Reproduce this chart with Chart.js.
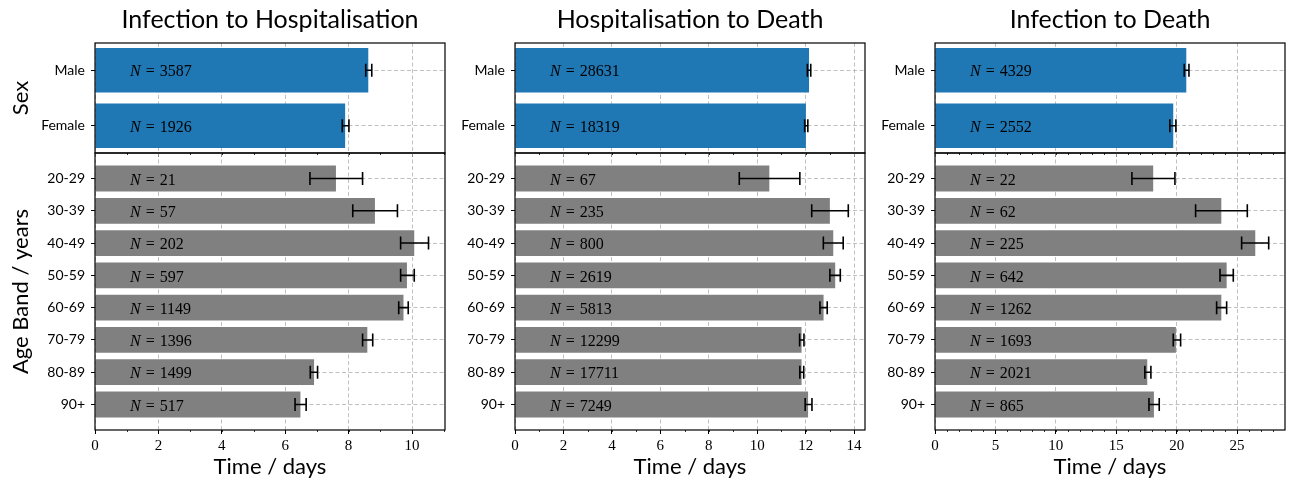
<!DOCTYPE html>
<html>
<head>
<meta charset="utf-8">
<script src="https://cdn.jsdelivr.net/npm/chart.js@4.4.1/dist/chart.umd.min.js"></script>
<style>
  html, body { margin: 0; padding: 0; background: #ffffff; }
  body { width: 1290px; height: 482px; position: relative; overflow: hidden; }
  canvas { position: absolute; }
</style>
</head>
<body>
<script>
// ---------- data ----------
const panelTitles = ['Infection to Hospitalisation', 'Hospitalisation to Death', 'Infection to Death'];
const sexLabels = ['Male', 'Female'];
const ageLabels = ['20-29', '30-39', '40-49', '50-59', '60-69', '70-79', '80-89', '90+'];
const sexAxisTitle = 'Sex';
const ageAxisTitle = 'Age Band / years';
const timeAxisTitle = 'Time / days';

// Infection to Hospitalisation
const ihSexMean = [8.62, 7.89];
const ihSexLow  = [8.54, 7.80];
const ihSexHigh = [8.73, 8.01];
const ihSexN    = [3587, 1926];
const ihAgeMean = [7.60, 8.83, 10.07, 9.84, 9.73, 8.59, 6.91, 6.48];
const ihAgeLow  = [6.78, 8.13, 9.64, 9.64, 9.58, 8.44, 6.79, 6.31];
const ihAgeHigh = [8.44, 9.54, 10.52, 10.07, 9.88, 8.76, 7.02, 6.66];
const ihAgeN    = [21, 57, 202, 597, 1149, 1396, 1499, 517];

// Hospitalisation to Death
const hdSexMean = [12.14, 12.01];
const hdSexLow  = [12.07, 11.96];
const hdSexHigh = [12.21, 12.09];
const hdSexN    = [28631, 18319];
const hdAgeMean = [10.50, 13.00, 13.14, 13.22, 12.74, 11.83, 11.83, 12.10];
const hdAgeLow  = [9.26, 12.25, 12.73, 13.00, 12.59, 11.75, 11.76, 11.98];
const hdAgeHigh = [11.76, 13.76, 13.55, 13.43, 12.89, 11.93, 11.92, 12.26];
const hdAgeN    = [67, 235, 800, 2619, 5813, 12299, 17711, 7249];

// Infection to Death
const idSexMean = [20.80, 19.72];
const idSexLow  = [20.63, 19.44];
const idSexHigh = [21.02, 19.94];
const idSexN    = [4329, 2552];
const idAgeMean = [18.06, 23.70, 26.51, 24.14, 23.70, 19.94, 17.57, 18.12];
const idAgeLow  = [16.30, 21.57, 25.38, 23.59, 23.31, 19.72, 17.37, 17.71];
const idAgeHigh = [19.86, 25.85, 27.62, 24.69, 24.14, 20.33, 17.87, 18.56];
const idAgeN    = [22, 62, 225, 642, 1262, 1693, 2021, 865];

// axis limits / tick steps (days)
const xMaxes = [11.04, 14.45, 28.97];
const xMajorSteps = [2, 2, 5];
const xMinorStep = 1;

// ---------- styling ----------
const SANS = 'Lato, "DejaVu Sans", sans-serif';
const SERIF = '"Liberation Serif", "DejaVu Serif", serif';
const BLUE = '#1f77b4';
const GREY = '#808080';
const GRID = '#b0b0b0';

const panels = [
  { sex: [ihSexMean, ihSexLow, ihSexHigh, ihSexN], age: [ihAgeMean, ihAgeLow, ihAgeHigh, ihAgeN] },
  { sex: [hdSexMean, hdSexLow, hdSexHigh, hdSexN], age: [hdAgeMean, hdAgeLow, hdAgeHigh, hdAgeN] },
  { sex: [idSexMean, idSexLow, idSexHigh, idSexN], age: [idAgeMean, idAgeLow, idAgeHigh, idAgeN] }
];

const AREA_LEFT = [95, 515, 935];
const AREA_W = 350;
const YAXIS_W = 95;
const RIGHT_PAD = 10;

function makeCanvas(left, top, w, h) {
  const c = document.createElement('canvas');
  c.width = w; c.height = h;
  c.style.left = left + 'px'; c.style.top = top + 'px';
  c.style.width = w + 'px'; c.style.height = h + 'px';
  document.body.appendChild(c);
  return c;
}

function overlayPlugin(labels, mean, low, high, nVals, xMax, isTop) {
  return {
    id: 'overlay',
    afterDatasetsDraw(chart) {
      const ctx = chart.ctx;
      const xs = chart.scales.x;
      const meta = chart.getDatasetMeta(0);
      const area = chart.chartArea;
      // error bars
      ctx.save();
      ctx.strokeStyle = '#000';
      ctx.lineWidth = 1.6;
      const cap = 6.5;
      for (let i = 0; i < mean.length; i++) {
        const y = meta.data[i].y;
        const x1 = xs.getPixelForValue(low[i]);
        const x2 = xs.getPixelForValue(high[i]);
        ctx.beginPath();
        ctx.moveTo(x1, y); ctx.lineTo(x2, y);
        ctx.moveTo(x1, y - cap); ctx.lineTo(x1, y + cap);
        ctx.moveTo(x2, y - cap); ctx.lineTo(x2, y + cap);
        ctx.stroke();
      }
      // N labels
      ctx.fillStyle = '#000';
      ctx.textBaseline = 'middle';
      ctx.textAlign = 'left';
      const tx = area.left + 0.1 * (area.right - area.left);
      for (let i = 0; i < nVals.length; i++) {
        const y = meta.data[i].y + 2;
        ctx.font = 'italic 16px ' + SERIF;
        ctx.fillText('N', tx, y);
        let w = ctx.measureText('N').width;
        ctx.font = '16px ' + SERIF;
        ctx.fillText('=', tx + w + 5, y);
        const we = ctx.measureText('=').width;
        ctx.fillText(String(nVals[i]), tx + w + 5 + we + 5, y);
      }
      ctx.restore();
    },
    afterDraw(chart) {
      const ctx = chart.ctx;
      const a = chart.chartArea;
      const xs = chart.scales.x;
      ctx.save();
      // minor ticks
      ctx.strokeStyle = '#000';
      ctx.lineWidth = 0.8;
      ctx.beginPath();
      for (let v = xMinorStep; v < xMax; v += xMinorStep) {
        const px = Math.round(xs.getPixelForValue(v)) + 0.5;
        ctx.moveTo(px, a.bottom); ctx.lineTo(px, a.bottom + 2);
      }
      ctx.stroke();
      // frame
      ctx.lineWidth = 1.2;
      ctx.strokeStyle = '#000';
      ctx.strokeRect(a.left, a.top, a.right - a.left, a.bottom - a.top);
      ctx.restore();
    }
  };
}

function buildChart(col, isTop) {
  const labels = isTop ? sexLabels : ageLabels;
  const [mean, low, high, nVals] = isTop ? panels[col].sex : panels[col].age;
  const xMax = xMaxes[col];
  const canvasLeft = AREA_LEFT[col] - YAXIS_W;
  const canvasW = YAXIS_W + AREA_W + RIGHT_PAD;
  const canvasTop = isTop ? 0 : 130;
  const canvasH = isTop ? 173 : 352;
  const xAxisH = isTop ? 20 : 52;
  const margin = isTop ? 0.49 : 0.79;
  const canvas = makeCanvas(canvasLeft, canvasTop, canvasW, canvasH);

  const yTitle = col === 0 ? { display: true, text: isTop ? sexAxisTitle : ageAxisTitle,
      font: { family: SANS, size: 22 }, color: '#000', padding: { top: 8, bottom: 0 } } : { display: false };

  return new Chart(canvas, {
    type: 'bar',
    data: {
      datasets: [{
        data: mean.map((v, i) => ({ x: v, y: i })),
        backgroundColor: isTop ? BLUE : GREY,
        borderWidth: 0,
        barPercentage: 0.8,
        categoryPercentage: 1.0
      }]
    },
    options: {
      indexAxis: 'y',
      responsive: false,
      animation: false,
      devicePixelRatio: 1,
      layout: { padding: { left: 0, right: RIGHT_PAD, top: isTop ? 0 : 23, bottom: 0 } },
      plugins: {
        legend: { display: false },
        tooltip: { enabled: false },
        title: isTop ? {
          display: true, text: panelTitles[col], fullSize: false, color: '#000',
          font: { family: SANS, size: 25, weight: 'normal', lineHeight: 1.2 },
          padding: { top: 5, bottom: 8 }
        } : { display: false }
      },
      scales: {
        x: {
          type: 'linear', min: 0, max: xMax, position: 'bottom', offset: false,
          ticks: {
            display: !isTop, stepSize: xMajorSteps[col], includeBounds: false,
            font: { family: SERIF, size: 15 }, color: '#000', padding: 3, maxRotation: 0
          },
          grid: { color: GRID, lineWidth: 0.8, tickLength: 4, tickColor: '#000', tickWidth: 1, drawTicks: true, offset: false },
          border: { display: false, dash: [4, 2.5] },
          title: isTop ? { display: false } : {
            display: true, text: timeAxisTitle, color: '#000',
            font: { family: SANS, size: 22 }, padding: { top: 0, bottom: 2 }
          },
          afterFit(s) { s.height = xAxisH; }
        },
        y: {
          type: 'linear', reverse: true, min: -margin, max: labels.length - 1 + margin,
          offset: false,
          afterBuildTicks(s) { s.ticks = labels.map((_, i) => ({ value: i })); },
          ticks: {
            autoSkip: false, padding: 6, color: '#000',
            font: { family: SANS, size: 14 },
            callback: (v) => labels[v]
          },
          grid: { color: GRID, lineWidth: 0.8, tickLength: 4, tickColor: '#000', tickWidth: 1, offset: false },
          border: { display: false, dash: [4, 2.5] },
          title: yTitle,
          afterFit(s) { s.width = YAXIS_W; }
        }
      }
    },
    plugins: [overlayPlugin(labels, mean, low, high, nVals, xMax, isTop)]
  });
}

for (let col = 0; col < 3; col++) {
  buildChart(col, true);
  buildChart(col, false);
}
</script>
</body>
</html>
